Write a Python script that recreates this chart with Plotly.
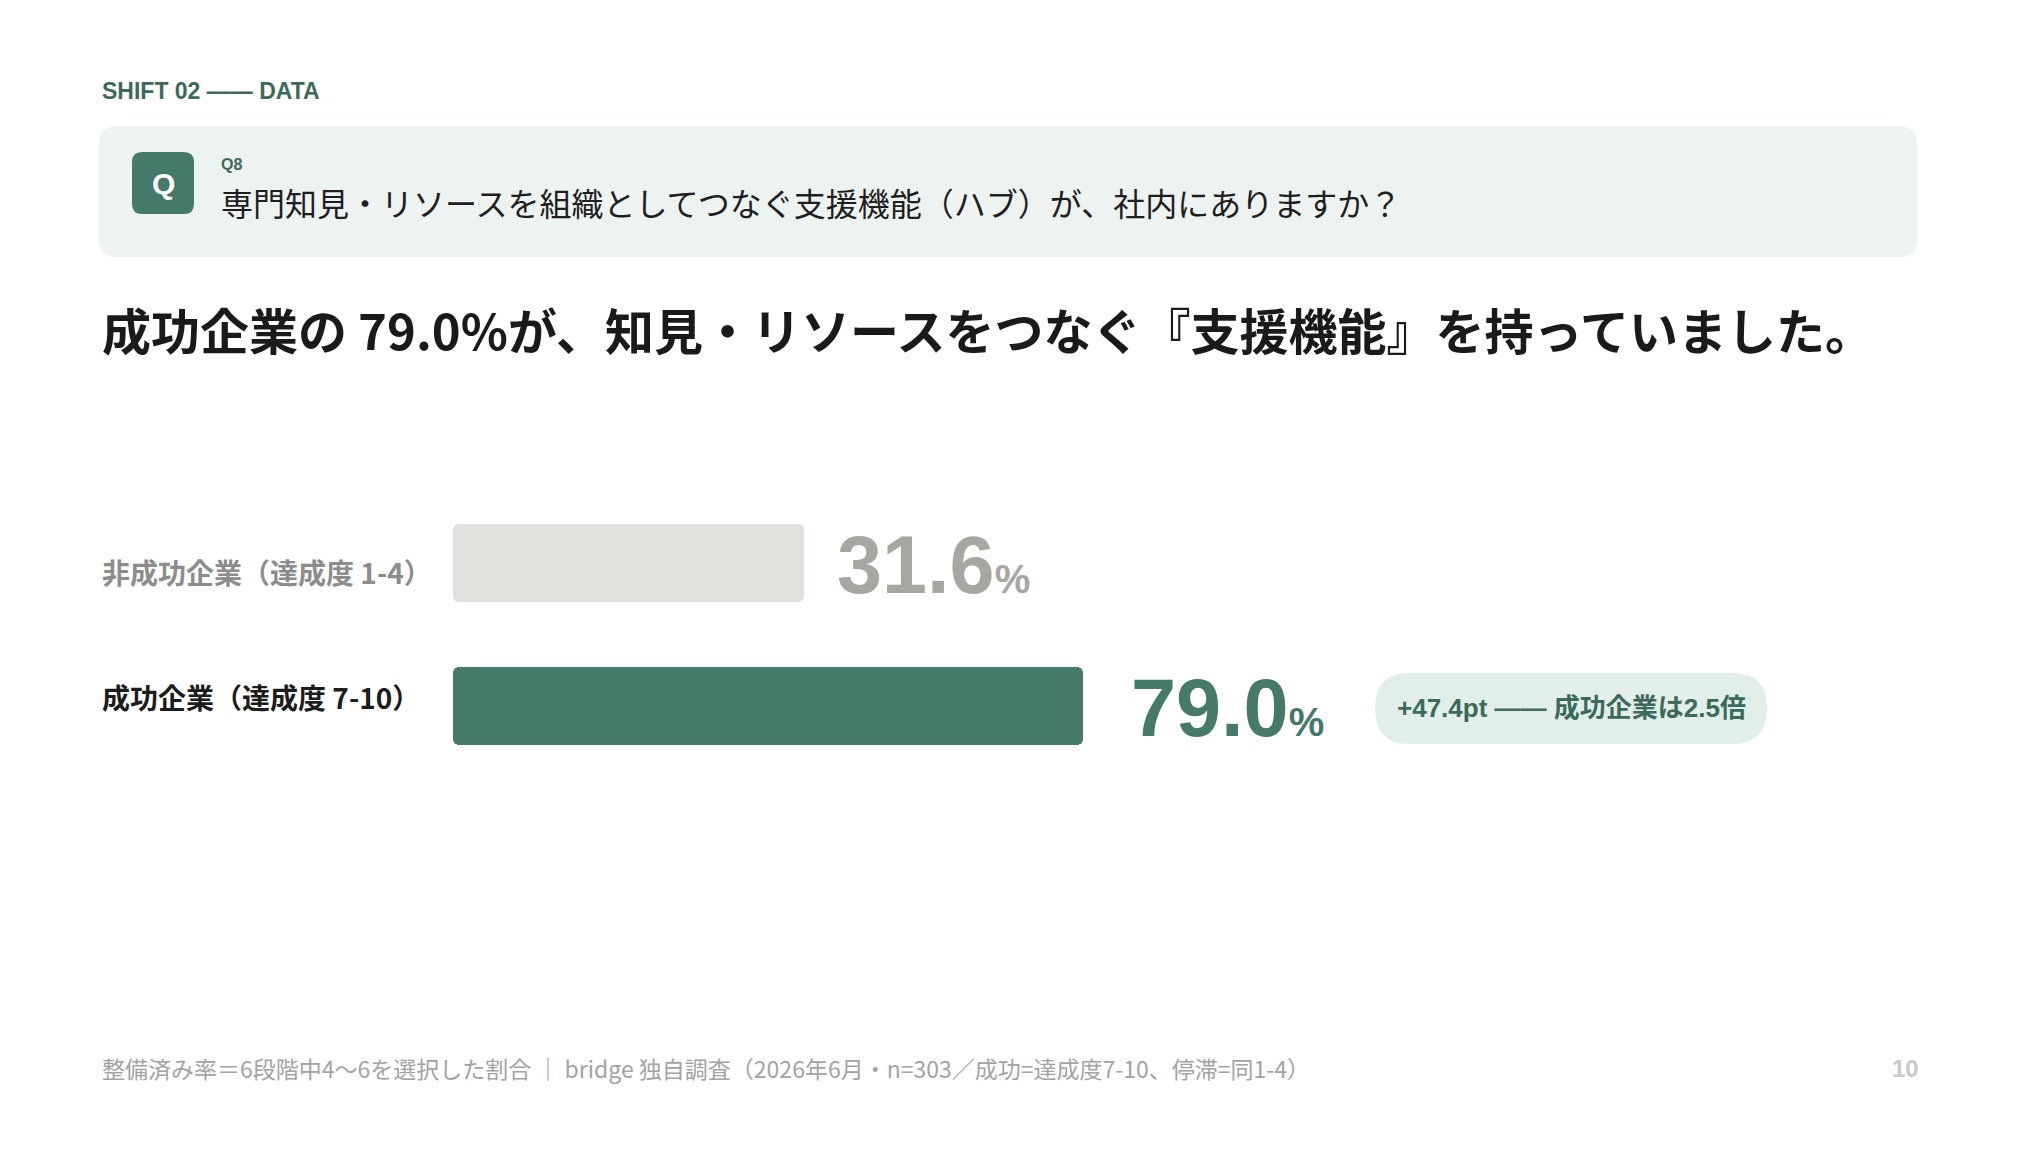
import plotly.graph_objects as go

W, H = 2042, 1164

# ---- data ----
categories = ["非成功企業（達成度 1-4）", "成功企業（達成度 7-10）"]
values = [31.6, 79.0]
kicker = "SHIFT 02 —— DATA"
q_label = "Q8"
question = "専門知見・リソースを組織としてつなぐ支援機能（ハブ）が、社内にありますか？"
headline = "成功企業の 79.0%が、知見・リソースをつなぐ『支援機能』を持っていました。"
footnote = "整備済み率＝6段階中4〜6を選択した割合 ｜ bridge 独自調査（2026年6月・n=303／成功=達成度7-10、停滞=同1-4）"
page_no = "10"

# ---- style ----
GREEN = "#45796a"
DARK_GREEN = "#3b6a5b"
bar_colors = ["#e1e0dc", GREEN]
label_colors = ["#8c8c8c", "#1c1c1c"]
label_yshift = [-9, 9]
value_colors = ["#a7a6a1", GREEN]
value_xshift = [31, 46]
BAR_BASE = -28.1
CJK = "Noto Sans CJK JP"
LAT = "Liberation Sans, Arial, Noto Sans CJK JP"
OFF = 8  # page body margin


def px(x):
    return (x - OFF) / W


def py(y):
    return 1 - (y - OFF) / H


def rrect(x0, y0, x1, y1, r, color):
    rx, ry = r / W, r / H
    X0, X1, Y0, Y1 = px(x0), px(x1), py(y0), py(y1)
    path = (
        f"M {X0+rx},{Y0} L {X1-rx},{Y0} Q {X1},{Y0} {X1},{Y0-ry} "
        f"L {X1},{Y1+ry} Q {X1},{Y1} {X1-rx},{Y1} "
        f"L {X0+rx},{Y1} Q {X0},{Y1} {X0},{Y1+ry} "
        f"L {X0},{Y0-ry} Q {X0},{Y0} {X0+rx},{Y0} Z"
    )
    return dict(type="path", path=path, xref="paper", yref="paper",
                fillcolor=color, line=dict(width=0), layer="below")


fig = go.Figure()
fig.add_trace(go.Bar(
    y=categories,
    x=[v - BAR_BASE for v in values],
    base=BAR_BASE,
    orientation="h",
    width=0.545,
    marker=dict(color=bar_colors, cornerradius=6, line=dict(width=0)),
    hoverinfo="skip",
    showlegend=False,
))

ann = []


def txt(x, y, text, size, color, family=CJK, xanchor="left", yanchor="middle", **kw):
    ann.append(dict(x=px(x), y=py(y), xref="paper", yref="paper", text=text,
                    showarrow=False, xanchor=xanchor, yanchor=yanchor,
                    font=dict(size=size, color=color, family=family), **kw))


txt(100, 91, f"<b>{kicker}</b>", 23, DARK_GREEN, family=LAT)
txt(163, 183, "<b>Q</b>", 30, "white", family=LAT, xanchor="center")
txt(219, 165, f"<b>{q_label}</b>", 16, DARK_GREEN, family=LAT)
txt(219, 202, question, 32, "#1e1e1e")
txt(100, 328, f"<b>{headline}</b>", 49, "#1a1a1a")
txt(100, 1068, footnote, 23, "#a3a3a3")
txt(1921, 1068, f"<b>{page_no}</b>", 24, "#c9c9c5", family=LAT, xanchor="right")

pill_text = f"<b>+{values[1]-values[0]:.1f}pt —— 成功企業は{values[1]/values[0]:.1f}倍</b>"
txt(1571, 708, pill_text, 26, DARK_GREEN, family=LAT, xanchor="center")

for i, (c, v) in enumerate(zip(categories, values)):
    ann.append(dict(x=px(100), xref="paper", y=c, yref="y", text=f"<b>{c}</b>",
                    showarrow=False, xanchor="left", yanchor="middle",
                    yshift=label_yshift[i],
                    font=dict(size=28, color=label_colors[i], family=CJK)))
    ann.append(dict(x=v, xref="x", y=c, yref="y",
                    text=f"<b>{v:.1f}<span style='font-size:40px'>%</span></b>",
                    showarrow=False, xanchor="left", yanchor="middle",
                    xshift=value_xshift[i], yshift=-2,
                    font=dict(size=81, color=value_colors[i], family=LAT)))

shapes = [
    rrect(99, 126, 1917, 257, 18, "#edf3f0"),
    rrect(132, 152, 194, 214, 10, GREEN),
    rrect(1375, 673, 1767, 744, 35, "#e2eeea"),
]

fig.update_layout(
    width=W, height=H,
    margin=dict(l=0, r=0, t=0, b=0),
    paper_bgcolor="white", plot_bgcolor="rgba(0,0,0,0)",
    xaxis=dict(range=[-103.69, 243.24], visible=False, fixedrange=True),
    yaxis=dict(range=[4.259, -3.881], visible=False, fixedrange=True,
               categoryorder="array", categoryarray=categories),
    annotations=ann,
    shapes=shapes,
    bargap=0,
)

fig.write_html("out.html")
